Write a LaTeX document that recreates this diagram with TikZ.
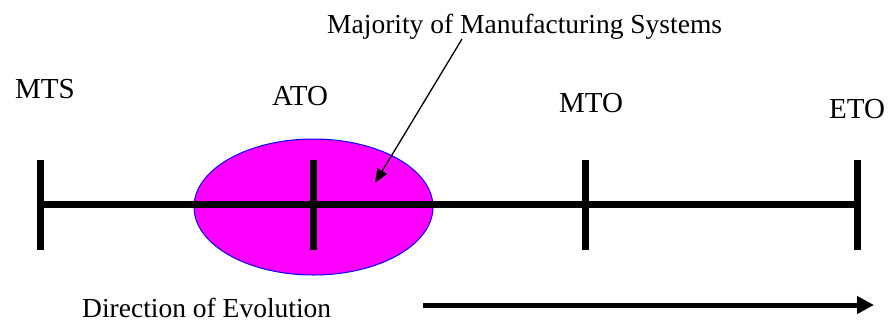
\documentclass[tikz,border=0pt]{standalone}
\usepackage{fontspec}
\setmainfont{Liberation Serif}
\usetikzlibrary{arrows.meta,positioning,shapes.geometric}
\definecolor{blobfill}{RGB}{255,0,255}
\definecolor{blobedge}{RGB}{0,0,255}

\begin{document}
\begin{tikzpicture}[
  x=1pt,y=-1pt,
  stage/.style={font=\fontsize{29}{32}\selectfont,inner sep=0pt,anchor=base west},
  caption/.style={font=\fontsize{27.5}{30}\selectfont,inner sep=0pt,anchor=base west},
  blob/.style={ellipse,draw=blobedge,fill=blobfill,line width=1pt,
    minimum width=239pt,minimum height=136pt,inner sep=0pt},
  axis/.style={line width=7pt},
  tickmark/.style={line width=7pt},
  pointer/.style={-{Triangle[length=14pt,width=11pt]},line width=1.3pt},
  evolve/.style={-{Triangle[length=17pt,width=17pt]},line width=5pt}
]
\useasboundingbox (0,0) rectangle (892,322);

\node[blob] (majority) at (313.5,207) {};

% positions along the axis
\coordinate (mts) at (40.5,204.5);
\coordinate (ato) at (313,204.5);
\coordinate (mto) at (585,204.5);
\coordinate (eto) at (857,204.5);

\draw[axis] (mts) -- (eto);
\draw[tickmark] ([yshift=-45pt]mts) -- ([yshift=45pt]mts);
\draw[tickmark] ([yshift=-45pt]ato) -- ([yshift=45pt]ato);
\draw[tickmark] ([yshift=-45pt]mto) -- ([yshift=45pt]mto);
\draw[tickmark] ([yshift=-45pt]eto) -- ([yshift=45pt]eto);

\node[stage] (mtslabel) at (15,98) {MTS};
\node[stage] (atolabel) at (272,105) {ATO};
\node[stage] (mtolabel) at (559,112) {MTO};
\node[stage] (etolabel) at (829,118) {ETO};

\node[caption] (majtext) at (327,33) {Majority of Manufacturing Systems};
\coordinate (tail) at (462,39);
\coordinate (aim) at (375,183);
\draw[pointer] (tail) -- (aim);

\node[caption] (dirtext) at (82,317) {Direction of Evolution};
\coordinate (evstart) at (423,305);
\coordinate (evend) at (874,305);
\draw[evolve] (evstart) -- (evend);
\end{tikzpicture}
\end{document}
